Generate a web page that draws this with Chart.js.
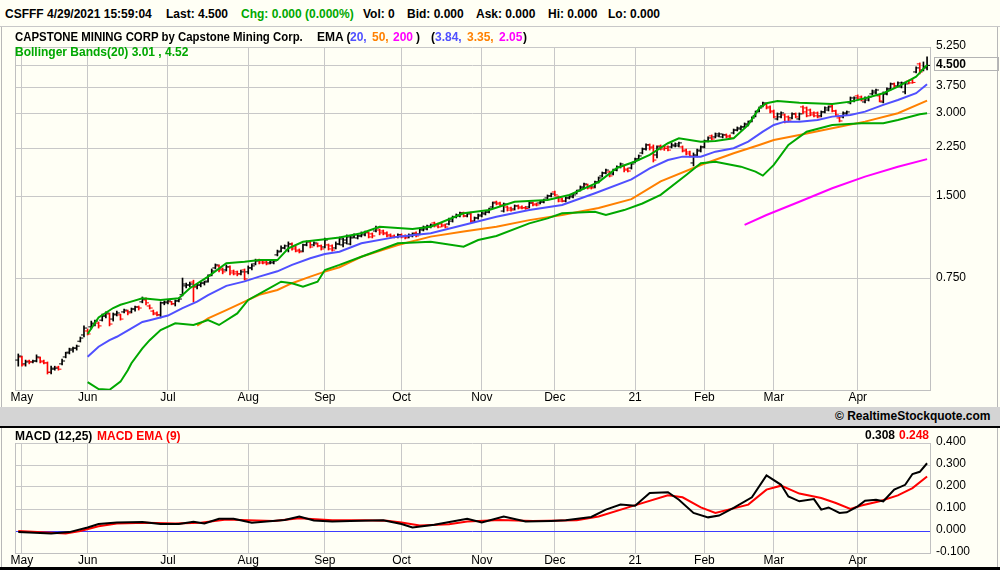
<!DOCTYPE html>
<html><head><meta charset="utf-8">
<script src="https://cdn.jsdelivr.net/npm/chart.js@4.4.1/dist/chart.umd.min.js"></script>
<style>
html,body{margin:0;padding:0;background:#fffff5;}
#wrap{position:relative;width:1000px;height:570px;overflow:hidden;background:#fffff5;font-family:"Liberation Sans",Arial,sans-serif;}
.t{position:absolute;white-space:pre;font-weight:bold;font-size:12px;line-height:14px;color:#000;}
.g{color:#00a800}.b{color:#5050ff}.o{color:#ff8000}.m{color:#ff00ff}.r{color:#ff0000}
.hl{position:absolute;background:#c8c8c8;}
canvas{position:absolute;left:0;}
</style></head>
<body><div id="wrap">
<div class="hl" style="left:0;top:26px;width:1000px;height:1px;"></div>
<div class="hl" style="left:1px;top:27px;width:1px;height:380px;background:#b8b8b8"></div>
<div class="hl" style="left:997px;top:27px;width:1px;height:380px;background:#b8b8b8"></div>
<canvas id="main" width="1000" height="379" style="top:28px"></canvas>
<div class="hl" style="left:0;top:407px;width:1000px;height:19px;background:#d4d4d4"></div>
<div class="hl" style="left:0;top:426px;width:1000px;height:2px;background:#000"></div>
<div class="hl" style="left:1px;top:428px;width:1px;height:139px;background:#b8b8b8"></div>
<div class="hl" style="left:997px;top:428px;width:1px;height:139px;background:#b8b8b8"></div>
<div class="hl" style="left:0;top:567px;width:1000px;height:3px;background:#000"></div>
<canvas id="macd" width="1000" height="139" style="top:428px"></canvas>

<span class="t" style="left:5px;top:7px">CSFFF</span>
<span class="t" style="left:47px;top:7px">4/29/2021 15:59:04</span>
<span class="t" style="left:166px;top:7px">Last: 4.500</span>
<span class="t g" style="left:241px;top:7px">Chg: 0.000 (0.000%)</span>
<span class="t" style="left:363px;top:7px">Vol: 0</span>
<span class="t" style="left:407px;top:7px">Bid: 0.000</span>
<span class="t" style="left:476px;top:7px">Ask: 0.000</span>
<span class="t" style="left:548px;top:7px">Hi: 0.000</span>
<span class="t" style="left:608px;top:7px">Lo: 0.000</span>

<span class="t" style="left:15px;top:30px;transform:scaleX(0.95);transform-origin:0 0">CAPSTONE MINING CORP by Capstone Mining Corp.</span>
<span class="t" style="left:317px;top:30px">EMA (</span>
<span class="t b" style="left:350px;top:30px">20,</span>
<span class="t o" style="left:372px;top:30px">50,</span>
<span class="t m" style="left:393px;top:30px">200</span>
<span class="t" style="left:416px;top:30px">)</span>
<span class="t" style="left:431px;top:30px">(</span>
<span class="t b" style="left:435px;top:30px">3.84,</span>
<span class="t o" style="left:467px;top:30px">3.35,</span>
<span class="t m" style="left:499px;top:30px">2.05</span>
<span class="t" style="left:523px;top:30px">)</span>
<span class="t g" style="left:15px;top:45px">Bollinger Bands(20) 3.01 , 4.52</span>

<span class="t" style="left:835px;top:409px">© RealtimeStockquote.com</span>

<span class="t" style="left:15px;top:429px">MACD (12,25)</span>
<span class="t r" style="left:97px;top:429px">MACD EMA (9)</span>
<span class="t" style="left:865px;top:428px">0.308</span>
<span class="t r" style="left:899px;top:428px">0.248</span>
</div>
<script>
// ---- axis data ----
const monthIdx = [0,18,40,62,83,104,126,146,168,187,206,229];
const monthLabels = ['May','Jun','Jul','Aug','Sep','Oct','Nov','Dec','21','Feb','Mar','Apr'];
const priceTicks = [0.75,1.5,2.25,3.0,3.75,4.5,5.25];
const macdTicks = [-0.1,0,0.1,0.2,0.3,0.4];
const lastPrice = 4.5;

// ---- daily price bars (first bar index -1) ----
const barStart = -1;
const barOpen = [.380,.390,.368,.377,.374,.377,.387,.377,.371,.343,.352,.358,.368,.390,.406,.417,.420,.445,.469,.485,.502,.514,.518,.531,.550,.559,.536,.555,.555,.569,.573,.569,.583,.593,.619,.629,.598,.573,.564,.555,.614,.614,.619,.609,.624,.657,.708,.713,.731,.702,.713,.725,.737,.776,.823,.837,.816,.809,.830,.802,.796,.783,.809,.796,.823,.851,.879,.872,.865,.858,.858,.918,.948,.973,.956,1.006,.981,.956,.948,.998,1.024,.998,1.006,.990,.981,.998,.990,.973,1.006,.998,1.015,1.006,1.067,1.058,1.076,1.086,1.104,1.095,1.122,1.131,1.122,1.104,1.086,1.076,1.067,1.086,1.076,1.067,1.076,1.104,1.095,1.131,1.141,1.160,1.200,1.190,1.190,1.180,1.190,1.219,1.262,1.272,1.305,1.272,1.305,1.219,1.251,1.272,1.294,1.315,1.372,1.431,1.419,1.326,1.372,1.360,1.349,1.384,1.372,1.365,1.372,1.419,1.407,1.419,1.431,1.480,1.505,1.556,1.492,1.467,1.442,1.480,1.492,1.543,1.581,1.609,1.651,1.623,1.623,1.692,1.780,1.825,1.840,1.810,1.870,1.919,1.936,1.886,1.903,1.998,2.052,2.159,2.231,2.309,2.270,2.123,2.290,2.280,2.270,2.270,2.290,2.290,2.270,2.212,2.176,1.985,2.105,2.194,2.270,2.387,2.490,2.469,2.490,2.469,2.511,2.490,2.553,2.616,2.639,2.685,2.731,2.823,2.946,3.070,3.203,3.257,3.176,3.070,2.871,2.921,2.970,2.921,2.896,2.995,2.871,3.176,3.149,3.095,3.020,3.020,2.946,3.045,3.095,3.203,3.070,2.896,2.921,2.995,3.284,3.338,3.483,3.453,3.311,3.365,3.543,3.572,3.483,3.311,3.543,3.692,3.852,3.788,3.756,3.601,3.945,3.980,4.259,4.556,4.329,4.405];
const barHigh = [.400,.393,.380,.380,.380,.397,.390,.380,.374,.361,.361,.361,.383,.406,.420,.424,.431,.461,.506,.493,.527,.531,.523,.559,.569,.564,.564,.573,.559,.583,.578,.588,.598,.598,.645,.640,.604,.578,.569,.619,.624,.629,.622,.629,.640,.756,.725,.731,.743,.719,.731,.737,.776,.816,.851,.844,.823,.844,.837,.809,.802,.809,.816,.837,.851,.886,.886,.879,.872,.879,.879,.956,.990,.998,1.024,1.015,.990,.965,1.006,1.032,1.032,1.024,1.015,.998,1.058,1.006,.998,1.024,1.067,1.058,1.086,1.076,1.095,1.086,1.113,1.122,1.113,1.104,1.170,1.141,1.131,1.113,1.095,1.086,1.095,1.095,1.086,1.095,1.104,1.113,1.151,1.170,1.180,1.190,1.209,1.200,1.200,1.190,1.251,1.272,1.294,1.315,1.315,1.305,1.315,1.262,1.294,1.315,1.326,1.360,1.431,1.442,1.431,1.419,1.384,1.372,1.396,1.396,1.384,1.380,1.431,1.431,1.419,1.442,1.467,1.518,1.543,1.568,1.505,1.480,1.492,1.518,1.530,1.581,1.637,1.678,1.664,1.637,1.706,1.765,1.840,1.886,1.855,1.886,1.936,1.985,1.952,1.903,1.985,2.070,2.123,2.251,2.328,2.328,2.309,2.290,2.309,2.300,2.290,2.348,2.348,2.367,2.290,2.231,2.194,2.159,2.231,2.290,2.406,2.469,2.511,2.553,2.553,2.532,2.532,2.511,2.639,2.685,2.708,2.777,2.823,2.921,3.070,3.176,3.311,3.284,3.203,3.095,3.020,3.045,2.995,2.946,3.020,3.020,3.020,3.203,3.176,3.122,3.045,3.045,3.070,3.176,3.203,3.230,3.095,2.921,3.045,3.070,3.453,3.453,3.513,3.483,3.453,3.483,3.660,3.692,3.513,3.601,3.724,3.884,3.884,3.916,3.916,3.916,3.980,4.000,4.443,4.594,4.632,4.831];
const barLow = [.361,.361,.361,.368,.371,.374,.371,.368,.338,.338,.349,.349,.365,.387,.400,.406,.413,.442,.461,.469,.493,.506,.497,.527,.541,.506,.527,.550,.531,.564,.555,.564,.573,.578,.614,.604,.583,.555,.550,.541,.604,.609,.604,.598,.619,.651,.696,.702,.619,.690,.702,.713,.731,.770,.816,.796,.783,.802,.776,.776,.770,.776,.743,.783,.809,.844,.851,.851,.844,.851,.851,.910,.941,.965,.941,.956,.941,.933,.941,.990,.973,.990,.981,.956,.973,.956,.948,.965,.998,.981,1.006,.998,1.058,1.049,1.067,1.076,1.058,1.058,1.113,1.086,1.086,1.067,1.058,1.058,1.058,1.058,1.049,1.058,1.067,1.067,1.086,1.122,1.131,1.151,1.160,1.151,1.160,1.151,1.180,1.209,1.251,1.262,1.262,1.262,1.200,1.209,1.240,1.262,1.283,1.305,1.360,1.396,1.384,1.315,1.326,1.326,1.337,1.349,1.349,1.345,1.360,1.384,1.384,1.407,1.419,1.467,1.492,1.505,1.431,1.431,1.431,1.467,1.480,1.530,1.568,1.595,1.595,1.595,1.609,1.678,1.765,1.810,1.765,1.795,1.855,1.903,1.840,1.840,1.886,1.985,2.034,2.141,2.212,2.212,2.001,2.070,2.212,2.205,2.194,2.251,2.270,2.270,2.176,2.123,2.088,1.936,2.088,2.176,2.251,2.367,2.406,2.448,2.469,2.448,2.448,2.427,2.532,2.595,2.616,2.662,2.708,2.800,2.921,3.045,3.176,3.122,3.020,2.896,2.846,2.896,2.777,2.800,2.871,2.896,2.846,2.995,2.921,2.946,2.921,2.896,2.921,3.020,3.070,3.045,2.946,2.800,2.896,2.970,3.257,3.311,3.365,3.338,3.284,3.338,3.513,3.543,3.311,3.284,3.513,3.660,3.724,3.756,3.724,3.543,3.852,3.870,4.224,4.189,4.294,4.329];
const barClose = [.393,.365,.374,.374,.377,.390,.374,.371,.343,.355,.355,.352,.377,.403,.413,.420,.427,.457,.497,.473,.518,.527,.506,.550,.564,.514,.559,.564,.536,.578,.564,.583,.593,.588,.634,.614,.588,.559,.555,.614,.619,.624,.609,.624,.634,.719,.713,.719,.702,.713,.725,.731,.770,.802,.844,.809,.796,.830,.789,.783,.783,.796,.750,.823,.837,.872,.858,.858,.851,.865,.872,.941,.973,.990,1.006,.965,.948,.941,.998,1.024,.981,1.015,.990,.965,1.040,.965,.956,1.006,1.049,1.040,1.067,1.058,1.086,1.076,1.104,1.113,1.067,1.076,1.151,1.104,1.095,1.076,1.067,1.067,1.086,1.067,1.058,1.086,1.095,1.076,1.141,1.160,1.170,1.180,1.170,1.160,1.170,1.160,1.240,1.262,1.283,1.305,1.272,1.294,1.219,1.251,1.283,1.305,1.315,1.349,1.419,1.407,1.396,1.407,1.337,1.337,1.384,1.360,1.360,1.355,1.419,1.396,1.396,1.431,1.454,1.505,1.530,1.518,1.442,1.442,1.480,1.505,1.518,1.568,1.623,1.664,1.609,1.609,1.692,1.750,1.825,1.870,1.780,1.870,1.919,1.968,1.870,1.855,1.968,2.052,2.105,2.231,2.309,2.251,2.034,2.270,2.231,2.240,2.212,2.309,2.328,2.348,2.194,2.141,2.105,2.123,2.212,2.270,2.387,2.448,2.427,2.532,2.532,2.511,2.469,2.448,2.616,2.662,2.685,2.754,2.800,2.896,3.045,3.149,3.284,3.149,3.045,2.921,2.995,3.020,2.800,2.846,2.995,2.921,2.995,3.045,2.946,2.970,2.946,2.921,3.045,3.149,3.176,3.070,2.970,2.823,3.020,3.045,3.424,3.424,3.395,3.365,3.424,3.453,3.628,3.660,3.338,3.543,3.692,3.852,3.756,3.884,3.884,3.852,3.884,3.900,4.405,4.259,4.443,4.500];

// ---- overlay studies ----
const ema20Idx = [18,21,24,26,30,33,35,40,44,48,51,56,61,65,70,74,79,83,87,93,103,112,121,130,139,148,157,167,172,177,181,186,190,195,199,203,206,209,213,218,222,227,231,236,240,245,248];
const ema20Val = [.391,.425,.449,.462,.496,.523,.531,.552,.587,.620,.655,.708,.735,.765,.800,.844,.892,.925,.943,1.012,1.070,1.101,1.180,1.265,1.337,1.396,1.54,1.73,1.898,2.034,2.093,2.093,2.182,2.245,2.373,2.58,2.731,2.807,2.807,2.846,2.928,2.97,3.053,3.23,3.365,3.563,3.84];
const ema50Idx = [48,51,56,61,65,70,74,79,83,87,93,103,112,121,130,139,148,158,167,175,186,195,202,206,213,222,231,240,248];
const ema50Val = [.507,.539,.578,.620,.657,.684,.724,.765,.798,.828,.904,.998,1.070,1.116,1.163,1.229,1.283,1.36,1.465,1.70,1.952,2.153,2.309,2.406,2.511,2.655,2.807,3.012,3.35];
const ema200Idx = [198,204,213,222,231,240,248];
const ema200Val = [1.18,1.283,1.434,1.605,1.77,1.924,2.05];
const bbUpIdx = [18,21,25,27,29,33,38,43,46,51,56,61,65,70,73,77,83,87,93,98,107,112,121,128,135,144,150,158,163,168,172,177,180,186,190,195,199,202,204,207,213,222,227,231,236,240,245,248];
const bbUpVal = [.473,.543,.588,.604,.615,.638,.629,.638,.694,.765,.856,.867,.879,.879,.970,1.025,1.046,1.062,1.101,1.163,1.141,1.163,1.301,1.337,1.434,1.454,1.518,1.69,1.903,2.01,2.123,2.342,2.442,2.373,2.387,2.442,2.731,3.14,3.275,3.338,3.292,3.257,3.32,3.415,3.563,3.766,4.095,4.52];
const bbLoIdx = [18,21,24,27,29,30,33,35,38,42,47,51,54,59,62,67,71,74,77,81,83,87,93,103,112,121,125,130,139,144,148,157,160,165,170,175,182,186,190,197,201,203,206,210,215,222,230,236,240,246,248];
const bbLoVal = [.316,.298,.296,.317,.349,.370,.419,.449,.489,.517,.510,.531,.510,.562,.629,.684,.733,.724,.703,.733,.809,.844,.904,1.012,1.026,.984,1.040,1.076,1.196,1.247,1.301,1.319,1.283,1.337,1.413,1.52,1.795,1.98,2.006,1.924,1.845,1.785,1.952,2.309,2.58,2.731,2.77,2.77,2.846,2.988,3.01];

// ---- MACD panel ----
const macdIdx = [-1,8,13,18,21,26,33,38,43,47,50,54,58,63,67,72,76,80,85,90,99,104,107,113,122,126,132,138,145,149,156,160,164,168,172,177,180,184,188,191,195,200,204,208,210,213,217,219,221,224,226,229,231,234,236,239,242,244,246,248];
const macdVal = [-0.005,-0.011,-0.005,0.016,0.032,0.039,0.041,0.032,0.032,0.042,0.034,0.056,0.056,0.038,0.043,0.050,0.066,0.048,0.043,0.046,0.049,0.032,0.016,0.028,0.056,0.039,0.066,0.043,0.046,0.049,0.064,0.097,0.120,0.115,0.173,0.176,0.142,0.082,0.062,0.070,0.105,0.153,0.253,0.210,0.157,0.135,0.145,0.097,0.107,0.082,0.085,0.112,0.138,0.142,0.135,0.188,0.210,0.259,0.269,0.308];
const sigIdx = [-1,12,16,21,26,34,42,49,56,62,69,76,85,94,100,104,109,117,122,131,140,152,158,167,177,181,186,190,199,204,208,213,219,223,227,230,235,240,244,248];
const sigVal = [0,-0.011,0,0.022,0.034,0.038,0.034,0.038,0.052,0.049,0.046,0.058,0.049,0.049,0.047,0.039,0.025,0.031,0.043,0.050,0.046,0.049,0.066,0.112,0.162,0.153,0.107,0.082,0.120,0.188,0.206,0.170,0.150,0.127,0.100,0.116,0.135,0.162,0.195,0.248];

// ---- styling ----
const FONT = '"Liberation Sans", Arial, sans-serif';
const GRID = '#c8c8c8';
const X_MIN = -1.9, X_MAX = 248.8;
const pts = (xs, ys) => xs.map((x, k) => ({x, y: ys[k]}));
const barX = barClose.map((_, k) => barStart + k);
const barCol = barClose.map((c, k) => c < barOpen[k] ? '#ff0000' : '#000000');

const leftEdge = {
  id: 'leftEdge',
  beforeDatasetsDraw(chart) {
    const {ctx, chartArea: a} = chart;
    ctx.save();
    ctx.strokeStyle = '#c0c0c0'; ctx.lineWidth = 1;
    ctx.beginPath();
    const x = Math.round(a.left) + 0.5;
    ctx.moveTo(x, a.top); ctx.lineTo(x, a.bottom); ctx.stroke();
    ctx.restore();
  }
};
const lastBox = {
  id: 'lastBox',
  afterDraw(chart) {
    const {ctx, chartArea: a} = chart;
    const y = Math.round(chart.scales.y.getPixelForValue(lastPrice)) - 1;
    ctx.save();
    ctx.strokeStyle = '#b4b4b4'; ctx.lineWidth = 1;
    ctx.strokeRect(Math.round(a.right) + 4.5, y - 6.5, chart.width - Math.round(a.right) - 6, 13);
    ctx.restore();
  }
};

function xScale(height) {
  return {
    type: 'linear', min: X_MIN, max: X_MAX, offset: false,
    afterBuildTicks: s => { s.ticks = monthIdx.map(v => ({value: v})); },
    afterFit: s => { s.height = height; },
    grid: {color: GRID, drawTicks: false, offset: false},
    border: {display: true, color: '#c0c0c0'},
    ticks: {autoSkip: false, maxRotation: 0, padding: 0, color: '#000',
      font: {family: FONT, size: 12},
      callback: v => monthLabels[monthIdx.indexOf(v)]}
  };
}
const lineDs = (xs, ys, color, w) => ({
  type: 'line', data: pts(xs, ys), borderColor: color, borderWidth: w || 2,
  pointRadius: 0, tension: 0, fill: false, order: 0
});

new Chart(document.getElementById('main'), {
  type: 'bar',
  data: {datasets: [
    lineDs(bbUpIdx, bbUpVal, '#00a800'),
    lineDs(bbLoIdx, bbLoVal, '#00a800'),
    lineDs(ema20Idx, ema20Val, '#5050ff'),
    lineDs(ema50Idx, ema50Val, '#ff8000'),
    lineDs(ema200Idx, ema200Val, '#ff00ff'),
    {type: 'bar', data: barX.map((x, k) => ({x, y: [barLow[k], barHigh[k]]})),
     backgroundColor: barCol, borderWidth: 0, barThickness: 1, grouped: false, order: 2},
    {type: 'scatter', data: pts(barX, barClose), pointStyle: 'dash', pointRadius: 3,
     pointHoverRadius: 3, pointBorderWidth: 1, pointBorderColor: barCol, pointBackgroundColor: barCol, order: 1},
    {type: 'scatter', data: pts(barX, barOpen), pointStyle: 'dash', pointRotation: 180, pointRadius: 3,
     pointHoverRadius: 3, pointBorderWidth: 1, pointBorderColor: barCol, pointBackgroundColor: barCol, order: 1}
  ]},
  options: {
    responsive: false, animation: false, devicePixelRatio: 1, events: [],
    layout: {padding: {left: 15, top: 19, right: 0, bottom: 0}},
    plugins: {legend: {display: false}, tooltip: {enabled: false}},
    scales: {
      x: xScale(17),
      y: {
        type: 'logarithmic', position: 'right', min: 0.2956, max: 5.25,
        afterBuildTicks: s => { s.ticks = priceTicks.map(v => ({value: v})); },
        afterFit: s => { s.width = 70; },
        grid: {color: GRID, drawTicks: false},
        border: {display: true, color: '#c0c0c0'},
        ticks: {padding: 6, labelOffset: -1, color: '#000',
          font: c => ({family: FONT, size: 12, weight: (c.tick && c.tick.value === lastPrice) ? 'bold' : 'normal'}),
          callback: v => Number(v).toFixed(3)}
      }
    }
  },
  plugins: [leftEdge, lastBox]
});

new Chart(document.getElementById('macd'), {
  type: 'line',
  data: {datasets: [
    lineDs(macdIdx, macdVal, '#000000'),
    lineDs(sigIdx, sigVal, '#ff0000')
  ]},
  options: {
    responsive: false, animation: false, devicePixelRatio: 1, events: [],
    layout: {padding: {left: 15, top: 15, right: 0, bottom: 0}},
    plugins: {legend: {display: false}, tooltip: {enabled: false}},
    scales: {
      x: xScale(14),
      y: {
        type: 'linear', position: 'right', min: -0.1, max: 0.4,
        afterBuildTicks: s => { s.ticks = macdTicks.map(v => ({value: v})); },
        afterFit: s => { s.width = 70; },
        grid: {color: c => (c.tick && Math.abs(c.tick.value) < 1e-9) ? '#3c3cff' : GRID, drawTicks: false},
        border: {display: true, color: '#c0c0c0'},
        ticks: {padding: 6, labelOffset: -1, color: '#000', font: {family: FONT, size: 12},
          callback: v => Number(v).toFixed(3)}
      }
    }
  },
  plugins: [leftEdge]
});
</script>
</body></html>
